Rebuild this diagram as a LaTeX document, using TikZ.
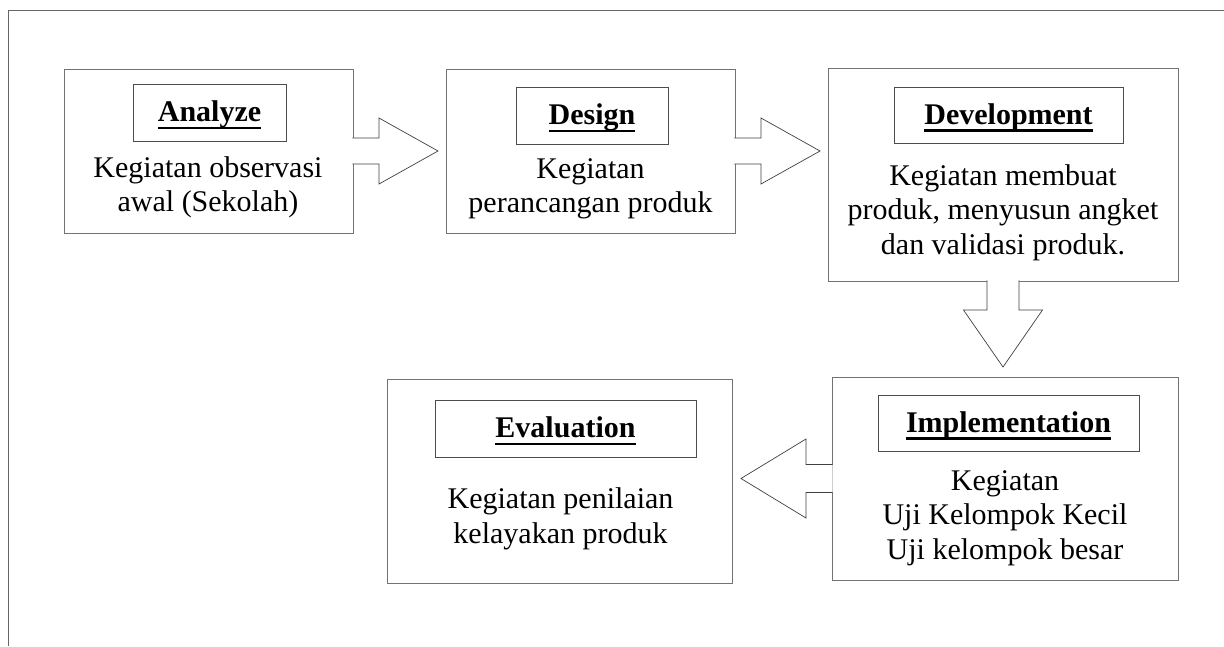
\documentclass[tikz,border=0pt]{standalone}
\usepackage{fontspec}
\setmainfont{Liberation Serif}
\usetikzlibrary{positioning,calc}

% bold heading with a thick underline through the descenders
\newcommand{\hd}[1]{\setbox0\hbox{\bfseries #1}\rlap{\rule[-0.26em]{\wd0}{0.08em}}\box0}

\tikzset{
  frame/.style={draw=black!60,line width=1pt},
  stage/.style={draw=black!55,line width=1pt,fill=white,outer sep=0pt,inner sep=0pt},
  ttlbox/.style={draw=black!70,line width=0.8pt,outer sep=0pt,inner sep=0pt,text height=26pt,text depth=8pt},
  body/.style={align=center,inner sep=0pt},
  blockarr/.style={fill=white,draw=black!75,line width=0.7pt,line join=miter}
}

\begin{document}
\begin{tikzpicture}[x=1pt,y=-1pt,font=\fontsize{30}{34.5}\selectfont]
\useasboundingbox (0,0) rectangle (1224,646);
\draw[frame] (8,646)--(8,10)--(1224,10);
%
\coordinate (An) at (208.5,151);
\coordinate (De) at (590.5,151);
\coordinate (Dv) at (1003,174.5);
\coordinate (Im) at (1005,478.5);
\coordinate (Ev) at (559.5,481);
%
\node[stage,minimum width=289,minimum height=164] (an) at (An) {};
\node[stage,minimum width=289,minimum height=164] (de) at (De) {};
\node[stage,minimum width=350,minimum height=213] (dv) at (Dv) {};
\node[stage,minimum width=346,minimum height=203] (im) at (Im) {};
\node[stage,minimum width=345,minimum height=204] (ev) at (Ev) {};
%
% block arrows
\filldraw[blockarr] ($(an.east)+(-0.6,-13)$) -- ++(26.6,0) -- ++(0,-20) -- ($(an.east)+(85,0)$)
  -- ($(an.east)+(26,33)$) -- ++(0,-20) -- ++(-26.6,0);
\filldraw[blockarr] ($(de.east)+(-0.6,-13)$) -- ++(26.6,0) -- ++(0,-20) -- ($(de.east)+(85,0)$)
  -- ($(de.east)+(26,33)$) -- ++(0,-20) -- ++(-26.6,0);
\filldraw[blockarr] ($(dv.south)+(-16,-0.6)$) -- ++(0,29.6) -- ++(-23.5,0) -- ($(dv.south)+(0,86)$)
  -- ($(dv.south)+(39.5,29)$) -- ++(-23.5,0) -- ++(0,-29.6);
\filldraw[blockarr] ($(im.west)+(0.6,-14)$) -- ++(-26.6,0) -- ++(0,-25.5) -- ($(im.west)+(-91,0)$)
  -- ($(im.west)+(-26,39.5)$) -- ++(0,-25.5) -- ++(26.6,0);
%
% headings
\node[ttlbox,minimum width=153,minimum height=57] (anT) at (209.5,112.5) {\hd{Analyze}};
\node[ttlbox,minimum width=152,minimum height=57] (deT) at (592,115.5) {\hd{Design}};
\node[ttlbox,minimum width=229,minimum height=56] (dvT) at (1008.5,115) {\hd{Development}};
\node[ttlbox,minimum width=261,minimum height=56] (imT) at (1008.5,423) {\hd{Implementation}};
\node[ttlbox,minimum width=261,minimum height=57] (evT) at (565.5,428.5) {\hd{Evaluation}};
%
% texts
\node[body] (anB) at (208,187.5) {Kegiatan observasi\\awal (Sekolah)};
\node[body] (deB) at (590.5,189) {Kegiatan\\perancangan produk};
\node[body] (dvB) at (1003,212.5) {Kegiatan membuat\\produk, menyusun angket\\dan validasi produk.};
\node[body] (imB) at (1005,518) {Kegiatan\\Uji Kelompok Kecil\\Uji kelompok besar};
\node[body] (evB) at (560.5,519) {Kegiatan penilaian\\kelayakan produk};
\end{tikzpicture}
\end{document}
